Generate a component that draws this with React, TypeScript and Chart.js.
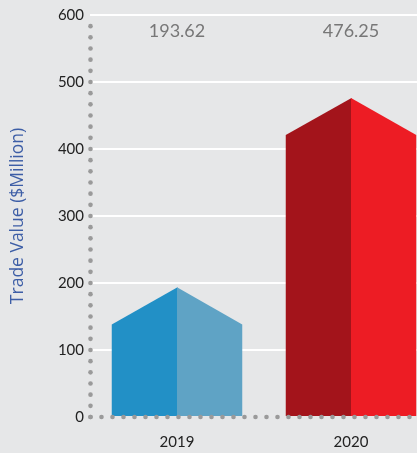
import React, { useEffect, useRef } from "react";
import { Chart, registerables } from "chart.js";

Chart.register(...registerables);

const categories = ["2019", "2020"];
const values = [193.62, 476.25];
const valueLabels = ["193.62", "476.25"];
const leftColors = ["#2290c6", "#a3141b"];
const rightColors = ["#5fa3c5", "#ed1c24"];
const yTicks = [0, 100, 200, 300, 400, 500, 600];

const BG = "#e6e7e8";
const FONT = "Lato, 'Open Sans', sans-serif";

const housePlugin = {
  id: "house",
  beforeDatasetsDraw(chart: any) {
    const { ctx, chartArea } = chart;
    const ys = chart.scales.y;
    // dotted y axis
    ctx.save();
    ctx.fillStyle = "#9a9a9a";
    const step = (ys.getPixelForValue(0) - ys.getPixelForValue(100)) / 6;
    for (let y = ys.getPixelForValue(0); y > chartArea.top + step * 0.6; y -= step) {
      ctx.beginPath();
      ctx.arc(chartArea.left + 0.5, y, 2.3, 0, Math.PI * 2);
      ctx.fill();
    }
    ctx.restore();
  },
  afterDatasetsDraw(chart: any) {
    const { ctx, chartArea } = chart;
    const meta = chart.getDatasetMeta(0);
    ctx.save();
    meta.data.forEach((bar: any, i: number) => {
      const cx = bar.x;
      const top = bar.y;
      const base = bar.base;
      const hw = bar.width / 2;
      const drop = hw * 0.57;
      ctx.fillStyle = leftColors[i];
      ctx.beginPath();
      ctx.moveTo(cx - hw, base);
      ctx.lineTo(cx - hw, top + drop);
      ctx.lineTo(cx + 0.5, top);
      ctx.lineTo(cx + 0.5, base);
      ctx.closePath();
      ctx.fill();
      ctx.fillStyle = rightColors[i];
      ctx.beginPath();
      ctx.moveTo(cx, base);
      ctx.lineTo(cx, top);
      ctx.lineTo(cx + hw, top + drop);
      ctx.lineTo(cx + hw, base);
      ctx.closePath();
      ctx.fill();
      // value label at top
      ctx.fillStyle = "#777777";
      ctx.font = "18px " + FONT;
      ctx.textAlign = "center";
      ctx.textBaseline = "middle";
      ctx.fillText(valueLabels[i], cx, chartArea.top + 16);
    });
    // dotted x axis
    ctx.fillStyle = "#9a9a9a";
    const y0 = chart.scales.y.getPixelForValue(0);
    for (let x = chartArea.left + 0.5; x < chartArea.right + 5; x += 11) {
      ctx.beginPath();
      ctx.arc(x, y0, 2.3, 0, Math.PI * 2);
      ctx.fill();
    }
    ctx.restore();
  },
};

export default function App() {
  const ref = useRef<HTMLCanvasElement>(null);
  useEffect(() => {
    document.body.style.margin = "0";
    document.body.style.background = BG;
    document.documentElement.style.overflow = "hidden";
    const chart = new Chart(ref.current!, {
      type: "bar",
      data: {
        labels: categories,
        datasets: [
          {
            data: values,
            backgroundColor: "rgba(0,0,0,0)",
            categoryPercentage: 0.75,
            barPercentage: 1,
          },
        ],
      },
      options: {
        responsive: false,
        animation: false,
        layout: { padding: { top: 14, right: 0, bottom: 0, left: 0 } },
        plugins: { legend: { display: false }, tooltip: { enabled: false } },
        scales: {
          x: {
            grid: { display: false },
            border: { display: false },
            ticks: {
              color: "#222222",
              font: { family: FONT, size: 15 },
              padding: 8,
            },
            afterFit: (s: any) => {
              s.height = 36;
            },
          },
          y: {
            min: 0,
            max: 600,
            afterBuildTicks: (s: any) => {
              s.ticks = yTicks.map((v) => ({ value: v }));
            },
            grid: {
              color: (c: any) => (c.tick && c.tick.value === 0 ? "rgba(0,0,0,0)" : "#ffffff"),
              lineWidth: 2,
              drawTicks: false,
            },
            border: { display: false },
            ticks: {
              color: "#222222",
              font: { family: FONT, size: 15 },
              padding: 6,
            },
            title: {
              display: true,
              text: "Trade Value ($Million)",
              color: "#3d5ea6",
              font: { family: "'Open Sans', sans-serif", size: 17.5 },
              padding: { top: 8, bottom: 0 },
            },
            afterFit: (s: any) => {
              s.width = 90;
            },
          },
        },
      },
      plugins: [housePlugin],
    });
    return () => chart.destroy();
  }, []);
  return (
    <div style={{ width: 417, height: 453, overflow: "hidden", background: BG }}>
      <canvas ref={ref} width={438} height={453} style={{ display: "block" }} />
    </div>
  );
}
